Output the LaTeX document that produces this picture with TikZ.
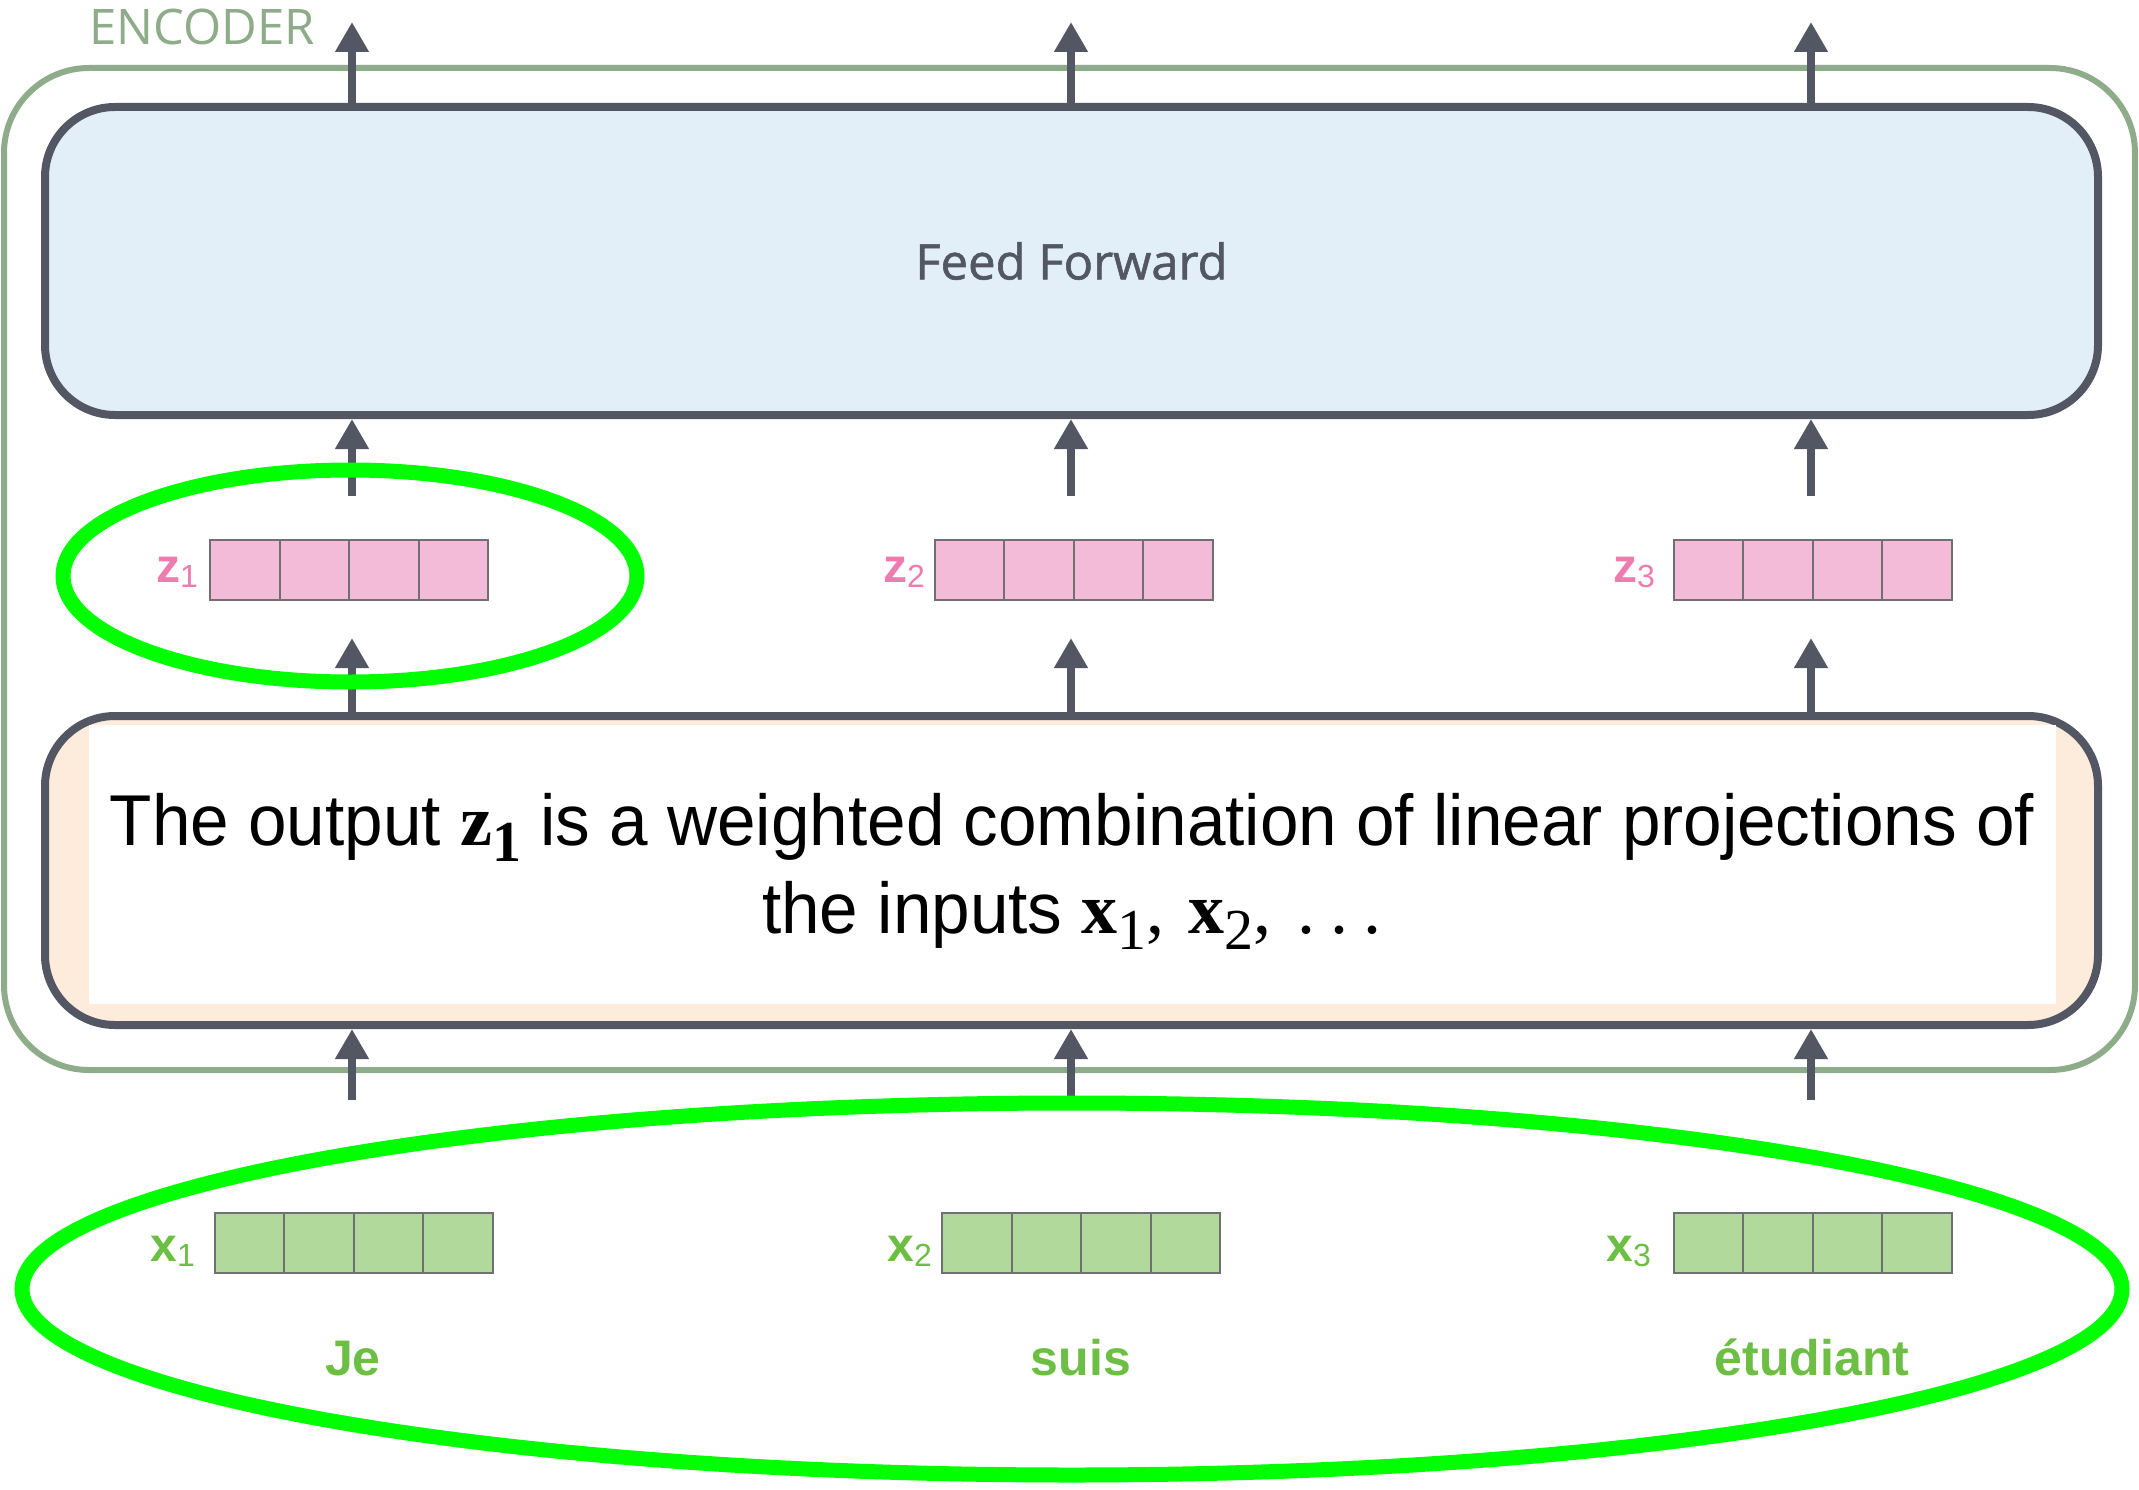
\documentclass[tikz,border=0pt]{standalone}
\usepackage{fontspec}
\setmainfont{Liberation Sans}
\newfontfamily\captionsans[FakeStretch=0.962]{Liberation Sans}
\newfontfamily\opensans{Open Sans}
\newfontfamily\opensansmed[FakeBold=1.2]{Open Sans}
\newfontfamily\symserif{Liberation Serif}
\usetikzlibrary{arrows.meta,calc,shapes.geometric}

\definecolor{encgreen}{RGB}{143,172,138}
\definecolor{darkline}{RGB}{82,87,99}
\definecolor{ffblue}{RGB}{226,239,249}
\definecolor{sapeach}{RGB}{253,235,220}
\definecolor{zpink}{RGB}{244,187,216}
\definecolor{zlabpink}{RGB}{238,124,176}
\definecolor{xgreen}{RGB}{176,217,155}
\definecolor{wordgreen}{RGB}{108,190,69}
\definecolor{cellgray}{RGB}{110,112,116}
\definecolor{hlgreen}{RGB}{0,255,0}

% vector label: bold letter with a regular-weight index
\newcommand\veclab[2]{{\bfseries #1}\raisebox{-5pt}{\fontsize{32}{32}\selectfont #2}}
% bold serif vector symbol with a lowered index (#3 = weight switch of the index)
\newcommand\symvec[3]{{\symserif\bfseries #1}\raisebox{-16pt}{\symserif#3\fontsize{58}{58}\selectfont #2}}
% spaced ellipsis in the serif face
\newcommand\symdots{{\symserif.\hspace{15pt}.\hspace{15pt}.}}

\tikzset{
  encbox/.style={draw=encgreen, line width=6pt, rounded corners=85pt, inner sep=0pt},
  block/.style={draw=darkline, line width=8pt, rounded corners=70pt, inner sep=0pt},
  flow/.style={draw=darkline, line width=8pt, -{Triangle[length=30pt,width=32pt]}},
  vec/.style={draw=cellgray, line width=2pt, minimum width=278pt, minimum height=60pt, inner sep=0pt,
    path picture={\foreach \i in {1,2,3}
      \draw[cellgray, line width=2pt]
        ($(path picture bounding box.south west)!\i/4!(path picture bounding box.south east)$) --
        ($(path picture bounding box.north west)!\i/4!(path picture bounding box.north east)$);}},
  zvec/.style={vec, fill=zpink},
  xvec/.style={vec, fill=xgreen},
  zlab/.style={text=zlabpink, font=\fontsize{48}{48}\selectfont, inner sep=0pt, anchor=base east},
  xlab/.style={text=wordgreen, font=\fontsize{48}{48}\selectfont, inner sep=0pt, anchor=base east},
  word/.style={text=wordgreen, font=\fontsize{50}{50}\selectfont\bfseries, inner sep=0pt, anchor=base},
  hl/.style={draw=hlgreen, line width=15pt, ellipse, inner sep=0pt}
}

\begin{document}
\begin{tikzpicture}[x=1pt,y=-1pt]
\useasboundingbox[fill=white] (0,0) rectangle (2139,1490);

% encoder frame and its title
\node[encbox, minimum width=2131pt, minimum height=1002pt] (encoder) at (1069.5,569) {};
\node[text=encgreen, font=\opensans\fontsize{49}{49}\selectfont, inner sep=0pt] (enctitle) at (202,27) {ENCODER};

% feed-forward layer
\node[block, fill=ffblue, minimum width=2053pt, minimum height=308pt,
      text=darkline, font=\opensansmed\fontsize{49}{49}\selectfont] (ff) at (1071.5,261) {Feed Forward};

% self-attention layer with a white caption panel
\node[block, fill=sapeach, minimum width=2053pt, minimum height=309pt] (sa) at (1071.5,870.5) {};
\node[fill=white, minimum width=1967pt, minimum height=279pt, inner sep=0pt] (sapanel) at (1072.5,864.5) {};
\node[inner sep=0pt, align=center, font=\captionsans\fontsize{72}{88}\selectfont] (satext) at (1072,871)
  {The output \symvec{z}{1}{\bfseries} is a weighted combination of linear projections of\\
   the inputs \symvec{x}{1}{}{\symserif,}\hspace{24pt}\symvec{x}{2}{}{\symserif,}\hspace{26pt}\symdots};

% output vectors z
\node[zvec] (z1) at (349,569.5) {};
\node[zvec] (z2) at (1073.5,569.5) {};
\node[zvec] (z3) at (1812.5,569.5) {};
\node[zlab] (zl1) at (198,582) {\veclab{z}{1}};
\node[zlab] (zl2) at (925,582) {\veclab{z}{2}};
\node[zlab] (zl3) at (1655,582) {\veclab{z}{3}};

% input vectors x and their words
\node[xvec] (x1) at (353.5,1243) {};
\node[xvec] (x2) at (1081,1243) {};
\node[xvec] (x3) at (1812.5,1243) {};
\node[xlab] (xl1) at (195,1261) {\veclab{x}{1}};
\node[xlab] (xl2) at (932,1261) {\veclab{x}{2}};
\node[xlab] (xl3) at (1651,1261) {\veclab{x}{3}};
\node[word] (w1) at (353,1375) {Je};
\node[word] (w2) at (1081,1375) {suis};
\node[word] (w3) at (1812,1375) {étudiant};

% data flow arrows, one column per token
\foreach \c/\n in {352/1,1071/2,1811/3}{
  \coordinate (out\n) at (\c,22);
  \coordinate (zin\n) at (\c,638);
  \coordinate (zout\n) at (\c,496);
  \coordinate (xout\n) at (\c,1100);
  \draw[flow] (ff.north -| out\n) -- (out\n);
  \draw[flow] (sa.north -| zin\n) -- (zin\n);
  \draw[flow] (zout\n) -- (ff.south -| zout\n);
  \draw[flow] (xout\n) -- (sa.south -| xout\n);
}

% highlight rings
\node[hl, minimum width=574pt, minimum height=212pt] (ringz) at (350,576) {};
\node[hl, minimum width=2100pt, minimum height=372pt] (ringx) at (1072,1289) {};
\end{tikzpicture}
\end{document}
